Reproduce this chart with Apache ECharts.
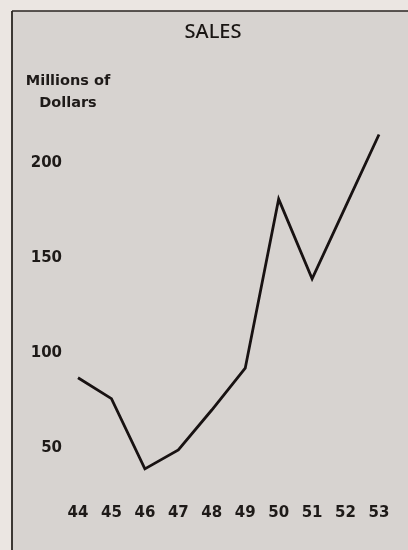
<!DOCTYPE html>
<html>
<head>
<meta charset="utf-8">
<script src="https://cdn.jsdelivr.net/npm/echarts@6/dist/echarts.min.js"></script>
<style>
html,body{margin:0;padding:0;background:#ebe6e2;}
#chart{width:408px;height:550px;}
</style>
</head>
<body>
<div id="chart"></div>
<script>
var years = ['44','45','46','47','48','49','50','51','52','53'];
var sales = [87, 76, 39, 49, 70, 92, 181, 139, 177, 215];
var yTicks = [50, 100, 150, 200];

var chart = echarts.init(document.getElementById('chart'));
var font = 'DejaVu Sans';
chart.setOption({
  backgroundColor: '#ebe6e2',
  animation: false,
  graphic: [
    {type: 'rect', z: -10, shape: {x: 12, y: 11, width: 400, height: 545}, style: {fill: '#d7d3d0'}},
    {type: 'line', z: -9, shape: {x1: 12, y1: 11, x2: 408, y2: 11}, style: {stroke: '#2a2522', lineWidth: 1.6}},
    {type: 'line', z: -9, shape: {x1: 12, y1: 11, x2: 12, y2: 550}, style: {stroke: '#2a2522', lineWidth: 1.8}}
  ],
  title: {
    text: 'SALES',
    left: 213,
    top: 22,
    textAlign: 'center',
    padding: 0,
    textStyle: {fontFamily: 'Noto Sans', fontSize: 20, fontWeight: 500, color: '#1a1614'}
  },
  grid: {left: 78, right: 29, top: 125, bottom: 7, containLabel: false},
  xAxis: {
    type: 'category',
    data: years,
    boundaryGap: false,
    axisLine: {show: false},
    axisTick: {show: false},
    axisLabel: {
      margin: -37,
      interval: 0,
      fontFamily: font, fontSize: 15, fontWeight: 'bold', color: '#1e1a18'
    },
    splitLine: {show: false}
  },
  yAxis: {
    type: 'value',
    min: 0,
    max: 220,
    interval: 50,
    name: 'Millions of\nDollars',
    nameLocation: 'end',
    nameGap: 11,
    nameTextStyle: {
      fontFamily: font, fontSize: 14.5, fontWeight: 'bold', color: '#1e1a18',
      align: 'center', lineHeight: 22, padding: [0, 20, 0, 0]
    },
    axisLine: {show: false},
    axisTick: {show: false},
    splitLine: {show: false},
    axisLabel: {
      margin: 16,
      fontFamily: font, fontSize: 15, fontWeight: 'bold', color: '#1e1a18',
      formatter: function (v) { return yTicks.indexOf(v) >= 0 ? String(v) : ''; }
    }
  },
  series: [{
    type: 'line',
    data: sales,
    showSymbol: false,
    symbol: 'none',
    lineStyle: {color: '#181212', width: 2.8, join: 'miter'}
  }]
});
</script>
</body>
</html>
